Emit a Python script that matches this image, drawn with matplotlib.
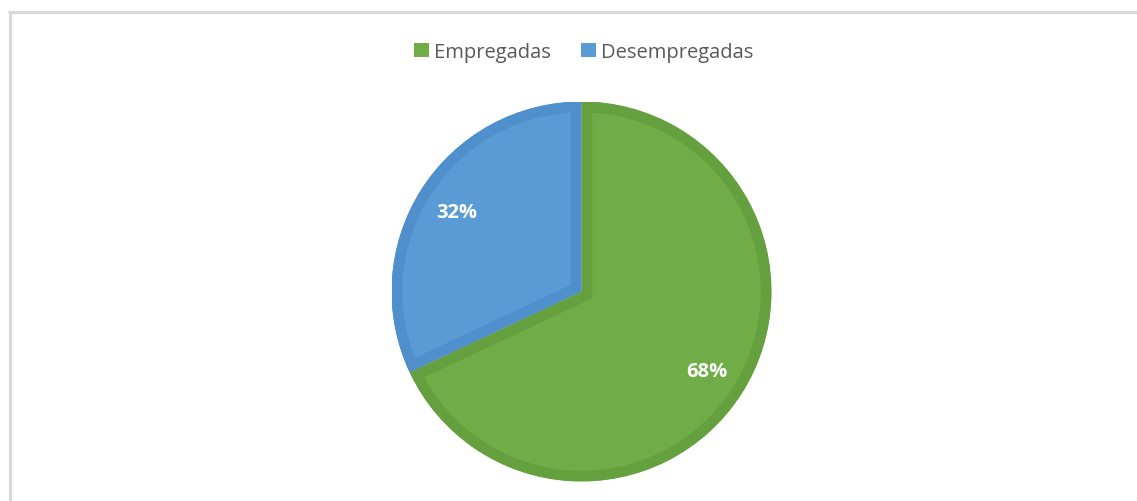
import matplotlib
matplotlib.use("Agg")
import matplotlib.pyplot as plt
from matplotlib.patches import Patch, Wedge
from matplotlib.lines import Line2D

labels = ["Empregadas", "Desempregadas"]
values = [68, 32]
fill_colors = ["#70AD47", "#5B9BD5"]
edge_colors = ["#65A03F", "#4F8FCB"]

W, H = 1137, 502
fig = plt.figure(figsize=(W / 100, H / 100), dpi=100)
fig.patch.set_facecolor("white")

cx, cy, r = 581.5, 292.5, 190
ax = fig.add_axes([(cx - r) / W, (H - cy - r) / H, 2 * r / W, 2 * r / H])
wedges, texts, autotexts = ax.pie(
    values, colors=fill_colors, startangle=90, counterclock=False,
    autopct=lambda p: f"{p:.0f}%", pctdistance=0.78,
    wedgeprops=dict(linewidth=15.5),
    textprops=dict(color="white", fontsize=14.5, fontweight="bold", family="Open Sans"),
)
ax.set_xlim(-1, 1)
ax.set_ylim(-1, 1)
ax.set_aspect("equal")
ax.axis("off")
for w, ec in zip(wedges, edge_colors):
    w.set_edgecolor(ec)
    clip = Wedge(w.center, w.r, w.theta1, w.theta2, transform=ax.transData)
    w.set_clip_path(clip)
    w.set_clip_on(True)

# chart frame
fig.add_artist(Line2D([9.5 / W, 9.5 / W], [0, (H - 13) / H], color="#d9d9d9", lw=2.2,
                      transform=fig.transFigure, solid_capstyle="butt"))
fig.add_artist(Line2D([8.4 / W, 1], [(H - 13) / H, (H - 13) / H], color="#d9d9d9", lw=2.2,
                      transform=fig.transFigure, solid_capstyle="butt"))

handles = [Patch(facecolor=c, edgecolor="none") for c in fill_colors]
leg = fig.legend(handles, labels, loc="center", bbox_to_anchor=(584 / W, 1 - 53 / H),
                 ncol=2, frameon=False, prop=dict(family="Open Sans", size=14.5),
                 handlelength=0.75, handleheight=0.75, handletextpad=0.25,
                 columnspacing=1.5, labelcolor="#595959")

fig.savefig("out.png", dpi=100, facecolor="white")
